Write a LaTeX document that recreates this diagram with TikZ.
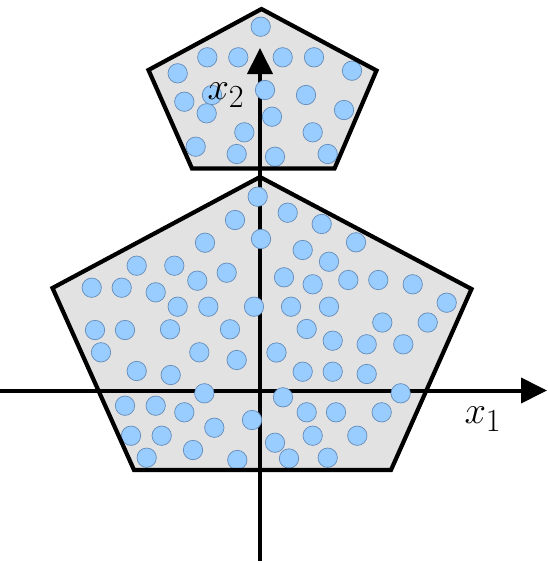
\documentclass[tikz,border=0pt]{standalone}
\usepackage{graphicx}
\usetikzlibrary{arrows.meta}
\definecolor{dotfill}{RGB}{153,204,255}
\definecolor{dotline}{RGB}{100,140,185}
\definecolor{polyfill}{RGB}{226,226,226}
\newcommand{\biglbl}[1]{\scalebox{1.55}{\Huge$#1$}}
\begin{document}
\begin{tikzpicture}[x=1pt,y=-1pt,
  poly/.style={fill=polyfill},
  edge/.style={draw=black,line width=4.2pt,line join=miter},
  axis/.style={line width=4pt,-{Triangle[length=26pt,width=25pt]}},
  blob/.style={fill=dotfill,draw=dotline,line width=0.7pt},
  lbl/.style={inner sep=0pt}]
\useasboundingbox (0,0) rectangle (547,563);
% pentagon corners
\coordinate (bT) at (260,177);
\coordinate (bL) at (52.5,288);
\coordinate (bR) at (471.5,289);
\coordinate (bBL) at (134,470);
\coordinate (bBR) at (391,470);
\coordinate (sT) at (261.5,9);
\coordinate (sL) at (148.5,70);
\coordinate (sR) at (376.5,70.5);
\coordinate (sBL) at (192,168.5);
\coordinate (sBR) at (334.5,168.5);
\coordinate (ax1s) at (0,390.5);
\coordinate (ax1e) at (547,390.5);
\coordinate (ax2s) at (260,561);
\coordinate (ax2e) at (260,48);
% fills
\fill[poly] (bT) -- (bR) -- (bBR) -- (bBL) -- (bL) -- cycle;
\fill[poly] (sT) -- (sR) -- (sBR) -- (sBL) -- (sL) -- cycle;
% axes
\draw[axis] (ax1s) -- (ax1e);
\draw[axis] (ax2s) -- (ax2e);
% dots
\foreach \p in {(260.7,26.7),(207.3,57.3),(238.3,57.3),(282.7,57.3),(314,57.3),
  (177.7,73.3),(352,70.7),(184.3,101.7),(212,95),(206.7,113.3),(265,90),(306,95),
  (344,110),(272,116.7),(244.3,132.3),(312.7,132.3),(195.7,146.7),(236.7,154),
  (275,156.7),(327.7,154),
  (257.7,196.7),(235,220),(261,239),(205,242.7),(287.7,212.7),(321.7,224),
  (302.7,250),(356,242.3),(329,261.7),
  (136.7,265.7),(174.3,265.7),(226.7,272.7),(197.3,280.7),(91.7,287.7),
  (121.7,287.7),(155.7,292.3),
  (284,277.3),(312.7,284.3),(348.3,280),(378.3,280),(412.7,284.3),(446.7,302.7),
  (177.7,306.7),(208.3,306.7),(254,306.7),(291,306.7),(329,306.7),
  (95,330),(125,330),(170,329.3),(230,329.3),(306.7,329),(382.3,322.5),(427.7,322.5),
  (101,352.3),(199.3,352.3),(236.7,360),(276.5,352.5),(332.7,340.7),(366.7,344.3),
  (403.3,344.3),
  (136.7,371),(170.7,375),(302.7,371.7),(332.7,371.7),(366.7,374),
  (204.3,393.3),(283,397.3),(400.7,393.3),
  (125,405.7),(155.7,405.7),(184.3,412.3),(306.7,412.3),(336,412.3),(381.7,412.3),
  (252,420),(214.3,427.7),(131,435.7),(161.7,435.7),(312.7,435.7),(357.3,435.7),
  (275,442.7),
  (193,450),(146.7,457.7),(237.3,460),(289,458.5),(327.7,457.7)}
  \draw[blob] \p circle[radius=9.7pt];
% outlines
\draw[edge] (bT) -- (bR) -- (bBR) -- (bBL) -- (bL) -- cycle;
\draw[edge] (sT) -- (sR) -- (sBR) -- (sBL) -- (sL) -- cycle;
% labels
\node[lbl] (x1) at (483,419) {\biglbl{x_1}};
\node[lbl] (x2) at (226,95) {\biglbl{x_2}};
\end{tikzpicture}
\end{document}
